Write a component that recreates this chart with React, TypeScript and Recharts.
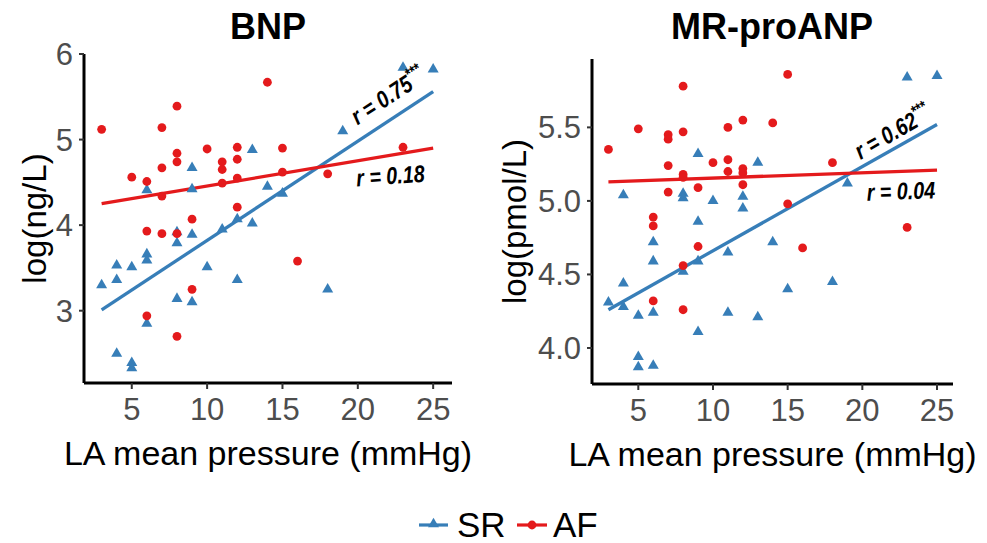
import React from 'react';
import { ScatterChart, Scatter, XAxis, YAxis, ReferenceLine, ReferenceDot, Label } from 'recharts';

const SR_COLOR = '#377EB8';
const AF_COLOR = '#E41A1C';
const FONT = "'Liberation Sans', Arial, sans-serif";

const xTicks = [5, 10, 15, 20, 25];
const bnpTicks = [3, 4, 5, 6];
const anpTicks = [4.0, 4.5, 5.0, 5.5];

// BNP panel
const bnpSR = [
  { x: 3, y: 3.3 }, { x: 4, y: 3.53 }, { x: 4, y: 3.36 }, { x: 4, y: 2.5 },
  { x: 5, y: 3.51 }, { x: 5, y: 2.39 }, { x: 5, y: 2.33 }, { x: 6, y: 4.41 },
  { x: 6, y: 3.66 }, { x: 6, y: 3.59 }, { x: 6, y: 2.85 }, { x: 8, y: 3.92 },
  { x: 8, y: 3.79 }, { x: 8, y: 3.14 }, { x: 9, y: 4.67 }, { x: 9, y: 4.42 },
  { x: 9, y: 3.89 }, { x: 9, y: 3.1 }, { x: 10, y: 3.51 }, { x: 11, y: 3.95 },
  { x: 12, y: 4.07 }, { x: 12, y: 3.36 }, { x: 13, y: 4.88 }, { x: 13, y: 4.02 },
  { x: 14, y: 4.45 }, { x: 15, y: 4.37 }, { x: 18, y: 3.25 }, { x: 19, y: 5.1 },
  { x: 23, y: 5.84 }, { x: 25, y: 5.82 },
];
const bnpAF = [
  { x: 3, y: 5.12 }, { x: 5, y: 4.56 }, { x: 6, y: 4.51 }, { x: 6, y: 3.93 },
  { x: 6, y: 2.94 }, { x: 7, y: 5.14 }, { x: 7, y: 4.67 }, { x: 7, y: 4.34 },
  { x: 7, y: 3.9 }, { x: 8, y: 5.39 }, { x: 8, y: 4.84 }, { x: 8, y: 4.74 },
  { x: 8, y: 3.9 }, { x: 8, y: 2.7 }, { x: 9, y: 4.07 }, { x: 9, y: 3.25 },
  { x: 10, y: 4.89 }, { x: 11, y: 4.74 }, { x: 11, y: 4.65 }, { x: 11, y: 4.49 },
  { x: 12, y: 4.91 }, { x: 12, y: 4.77 }, { x: 12, y: 4.55 }, { x: 12, y: 4.21 },
  { x: 14, y: 5.67 }, { x: 15, y: 4.9 }, { x: 15, y: 4.62 }, { x: 16, y: 3.58 },
  { x: 18, y: 4.6 }, { x: 23, y: 4.91 },
];
const bnpFitSR = [{ x: 3, y: 3.01 }, { x: 25, y: 5.56 }];
const bnpFitAF = [{ x: 3, y: 4.25 }, { x: 25, y: 4.9 }];

// MR-proANP panel
const anpSR = [
  { x: 3, y: 4.31 }, { x: 4, y: 5.04 }, { x: 4, y: 4.44 }, { x: 4, y: 4.28 },
  { x: 5, y: 4.22 }, { x: 5, y: 3.94 }, { x: 5, y: 3.87 }, { x: 6, y: 4.72 },
  { x: 6, y: 4.59 }, { x: 6, y: 4.24 }, { x: 6, y: 3.88 }, { x: 8, y: 5.05 },
  { x: 8, y: 5.02 }, { x: 8, y: 4.52 }, { x: 9, y: 5.32 }, { x: 9, y: 4.86 },
  { x: 9, y: 4.59 }, { x: 9, y: 4.11 }, { x: 10, y: 5.0 }, { x: 11, y: 4.65 },
  { x: 11, y: 4.24 }, { x: 12, y: 5.03 }, { x: 12, y: 4.95 }, { x: 13, y: 5.26 },
  { x: 13, y: 4.21 }, { x: 14, y: 4.72 }, { x: 15, y: 4.4 }, { x: 18, y: 4.45 },
  { x: 19, y: 5.12 }, { x: 23, y: 5.84 }, { x: 25, y: 5.85 },
];
const anpAF = [
  { x: 3, y: 5.35 }, { x: 5, y: 5.49 }, { x: 6, y: 4.89 }, { x: 6, y: 4.83 },
  { x: 6, y: 4.32 }, { x: 7, y: 5.45 }, { x: 7, y: 5.42 }, { x: 7, y: 5.24 },
  { x: 7, y: 5.06 }, { x: 8, y: 5.78 }, { x: 8, y: 5.47 }, { x: 8, y: 5.18 },
  { x: 8, y: 5.16 }, { x: 8, y: 4.56 }, { x: 8, y: 4.26 }, { x: 9, y: 5.09 },
  { x: 9, y: 4.69 }, { x: 10, y: 5.26 }, { x: 11, y: 5.5 }, { x: 11, y: 5.28 },
  { x: 11, y: 5.2 }, { x: 12, y: 5.55 }, { x: 12, y: 5.22 }, { x: 12, y: 5.19 },
  { x: 12, y: 5.11 }, { x: 14, y: 5.53 }, { x: 15, y: 5.86 }, { x: 15, y: 4.98 },
  { x: 16, y: 4.68 }, { x: 18, y: 5.26 }, { x: 23, y: 4.82 },
];
const anpFitSR = [{ x: 3, y: 4.26 }, { x: 25, y: 5.52 }];
const anpFitAF = [{ x: 3, y: 5.13 }, { x: 25, y: 5.21 }];

const Triangle = (props: any) => {
  const { cx, cy } = props;
  const s = 11;
  const h = s * 0.866;
  return (
    <path
      d={`M${cx},${cy - (h * 2) / 3} L${cx + s / 2},${cy + h / 3} L${cx - s / 2},${cy + h / 3} Z`}
      fill={SR_COLOR}
    />
  );
};

const Dot = (props: any) => <circle cx={props.cx} cy={props.cy} r={4.4} fill={AF_COLOR} />;

// r annotation drawn at a data point, rotated along the fit (squeezed to look like a narrow face)
const rText = (text: string, angle: number, stars: boolean) => (props: any) => {
  const { cx, cy } = props;
  return (
    <g transform={`translate(${cx}, ${cy}) rotate(${angle}) scale(0.82, 1)`}>
      <text
        x={0}
        y={0}
        textAnchor="middle"
        fontFamily={FONT}
        fontWeight="bold"
        fontStyle="italic"
        fontSize={24}
        fill="#000"
      >
        {text}
        {stars && <tspan dy={-10} fontSize={16}>***</tspan>}
      </text>
    </g>
  );
};

const axisTick = { fill: '#4D4D4D', fontSize: 31, fontFamily: FONT };
const axisLine = { stroke: '#000', strokeWidth: 3 };
const tickLine = { stroke: '#333', strokeWidth: 2 };

const App = () => {
  return (
    <div style={{ position: 'absolute', left: 0, top: 0, width: 987, height: 543, background: '#fff' }}>
      <svg width={987} height={543} style={{ position: 'absolute', left: 0, top: 0 }}>
        <text x={268} y={39} textAnchor="middle" fontFamily={FONT} fontWeight="bold" fontSize={36}>BNP</text>
        <text x={772} y={39} textAnchor="middle" fontFamily={FONT} fontWeight="bold" fontSize={36}>MR-proANP</text>
        {/* legend */}
        <line x1={419} x2={448} y1={525} y2={525} stroke={SR_COLOR} strokeWidth={3.2} />
        <Triangle cx={433.5} cy={524} />
        <text x={457} y={537} fontFamily={FONT} fontSize={35}>SR</text>
        <line x1={517} x2={547} y1={525} y2={525} stroke={AF_COLOR} strokeWidth={3.2} />
        <Dot cx={532} cy={525} />
        <text x={553} y={537} fontFamily={FONT} fontSize={35}>AF</text>
      </svg>

      <div style={{ position: 'absolute', left: 0, top: 0 }}>
        <ScatterChart width={480} height={543} margin={{ top: 54, right: 28, bottom: 120, left: 0 }}>
          <XAxis
            type="number"
            dataKey="x"
            domain={[1.83, 26.25]}
            ticks={xTicks}
            allowDataOverflow
            height={40}
            tick={axisTick}
            tickSize={6}
            tickMargin={9}
            axisLine={axisLine}
            tickLine={tickLine}
          >
            <Label value="LA mean pressure (mmHg)" position="bottom" offset={18} fontSize={34} fontFamily={FONT} fill="#000" />
          </XAxis>
          <YAxis
            type="number"
            dataKey="y"
            domain={[2.155, 6]}
            ticks={bnpTicks}
            allowDataOverflow
            width={84}
            tick={axisTick}
            tickSize={5}
            tickMargin={6}
            axisLine={axisLine}
            tickLine={tickLine}
          >
            <Label value="log(ng/L)" angle={-90} position="center" dx={-8} fontSize={33} fontFamily={FONT} fill="#000" />
          </YAxis>
          <Scatter data={bnpSR} shape={Triangle} isAnimationActive={false} />
          <Scatter data={bnpAF} shape={Dot} isAnimationActive={false} />
          <ReferenceLine segment={bnpFitSR} stroke={SR_COLOR} strokeWidth={3.3} />
          <ReferenceLine segment={bnpFitAF} stroke={AF_COLOR} strokeWidth={3.3} />
          <ReferenceDot x={22.3} y={5.43} r={0} shape={rText('r = 0.75', -33, true)} />
          <ReferenceDot x={22.2} y={4.48} r={0} shape={rText('r = 0.18', -4, false)} />
        </ScatterChart>
      </div>

      <div style={{ position: 'absolute', left: 490, top: 0 }}>
        <ScatterChart width={497} height={543} margin={{ top: 59, right: 34, bottom: 119, left: 0 }}>
          <XAxis
            type="number"
            dataKey="x"
            domain={[1.9, 26.07]}
            ticks={xTicks}
            allowDataOverflow
            height={40}
            tick={axisTick}
            tickSize={6}
            tickMargin={9}
            axisLine={axisLine}
            tickLine={tickLine}
          >
            <Label value="LA mean pressure (mmHg)" position="bottom" offset={18} fontSize={34} fontFamily={FONT} fill="#000" />
          </XAxis>
          <YAxis
            type="number"
            dataKey="y"
            domain={[3.755, 5.965]}
            ticks={anpTicks}
            tickFormatter={(v: number) => v.toFixed(1)}
            allowDataOverflow
            width={102}
            tick={axisTick}
            tickSize={5}
            tickMargin={6}
            axisLine={axisLine}
            tickLine={tickLine}
          >
            <Label value="log(pmol/L)" angle={-90} position="center" dx={-27} fontSize={33} fontFamily={FONT} fill="#000" />
          </YAxis>
          <Scatter data={anpSR} shape={Triangle} isAnimationActive={false} />
          <Scatter data={anpAF} shape={Dot} isAnimationActive={false} />
          <ReferenceLine segment={anpFitSR} stroke={SR_COLOR} strokeWidth={3.3} />
          <ReferenceLine segment={anpFitAF} stroke={AF_COLOR} strokeWidth={3.3} />
          <ReferenceDot x={22.3} y={5.42} r={0} shape={rText('r = 0.62', -30, true)} />
          <ReferenceDot x={22.6} y={5.01} r={0} shape={rText('r = 0.04', -2, false)} />
        </ScatterChart>
      </div>
    </div>
  );
};

export default App;
